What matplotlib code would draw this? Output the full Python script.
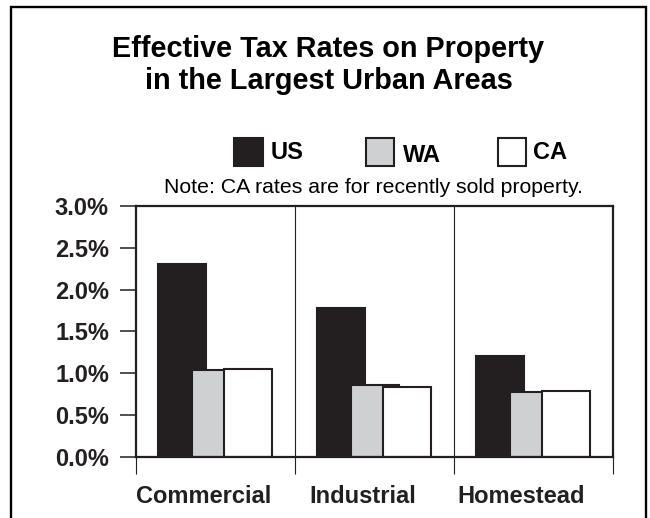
import matplotlib
matplotlib.use("Agg")
import matplotlib.pyplot as plt
from matplotlib.patches import Rectangle
import numpy as np

# Data
categories = ["Commercial", "Industrial", "Homestead"]
series = ["US", "WA", "CA"]
us_rates = [2.30, 1.78, 1.20]
wa_rates = [1.04, 0.86, 0.78]
ca_rates = [1.05, 0.84, 0.79]
y_ticks = [0.0, 0.5, 1.0, 1.5, 2.0, 2.5, 3.0]
y_tick_labels = ["0.0%", "0.5%", "1.0%", "1.5%", "2.0%", "2.5%", "3.0%"]
title_lines = ["Effective Tax Rates on Property", "in the Largest Urban Areas"]
note = "Note: CA rates are for recently sold property."

# Styling
W, H = 650, 518
ink = "#231f20"
fills = {"US": ink, "WA": "#cfd0d2", "CA": "#ffffff"}
offsets = {"US": -0.21, "WA": 0.005, "CA": 0.205}
bar_w = 0.30
FONT = "Liberation Sans"

plt.rcParams["font.family"] = [FONT, "DejaVu Sans"]


def fx(px):
    return px / W


def fy(py):
    return 1 - py / H


fig = plt.figure(figsize=(W / 100, H / 100), dpi=100)
fig.patch.set_facecolor("white")

# Outer frame (open at the bottom edge of the canvas)
fig.add_artist(Rectangle((fx(10.5), fy(530)), fx(646) - fx(10.5), fy(7) - fy(530),
                         transform=fig.transFigure, fill=False, lw=1.7,
                         edgecolor="black", clip_on=False))

# Title
fig.text(fx(327.5), fy(57), title_lines[0], ha="center", va="baseline",
         fontsize=20.8, fontweight="bold", color="black")
fig.text(fx(328.5), fy(89), title_lines[1], ha="center", va="baseline",
         fontsize=20.8, fontweight="bold", color="black")

# Legend drawn by hand
legend_pos = {"US": (234.3, 271, 159.3), "WA": (365.7, 403, 162), "CA": (497.7, 533, 159.3)}
for name in series:
    sx, tx, base = legend_pos[name]
    fig.add_artist(Rectangle((fx(sx), fy(165.7)), fx(28.7), (28.0 / H),
                             transform=fig.transFigure, facecolor=fills[name],
                             edgecolor=ink, lw=1.5))
    fig.text(fx(tx), fy(base), name, ha="left", va="baseline",
             fontsize=17, fontweight="bold", color="black")

fig.text(fx(373), fy(193), note, ha="center", va="baseline",
         fontsize=15.3, color="black")

# Plot area
ax = fig.add_axes([fx(136), fy(456.7), fx(477), 250.7 / H])
x = np.arange(len(categories)) + 0.5
for z, (name, vals) in enumerate(zip(series, [us_rates, wa_rates, ca_rates])):
    ax.bar(x + offsets[name], vals, width=bar_w, color=fills[name],
           edgecolor=ink, linewidth=1.5, zorder=3 + z)

for b in range(1, len(categories)):
    ax.axvline(b, color=ink, lw=0.8, zorder=1)

ax.set_xlim(0, len(categories))
ax.set_ylim(0, 3.0)
ax.set_yticks(y_ticks)
ax.set_yticklabels(y_tick_labels, fontsize=17, fontweight="bold", color=ink)
ax.set_xticks(np.arange(len(categories) + 1))
ax.set_xticklabels([])
ax.tick_params(axis="y", direction="out", length=11.5, width=1.1, color=ink, pad=8)
ax.tick_params(axis="x", direction="out", length=12, width=0.8, color=ink)
for s in ax.spines.values():
    s.set_linewidth(1.6)
    s.set_color(ink)
    s.set_zorder(10)

for i, cat in enumerate(categories):
    fig.text(fx(136 + 159 * (i + 0.5) - 12), fy(503), cat, ha="center",
             va="baseline", fontsize=17, fontweight="bold", color=ink)

fig.savefig("out.png", dpi=100, facecolor="white")
